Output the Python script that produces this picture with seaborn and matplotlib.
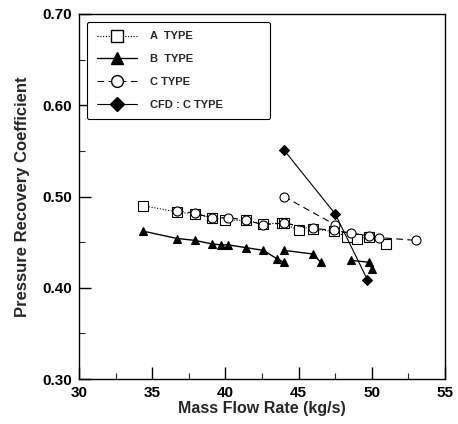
import numpy as np
import pandas as pd
import seaborn as sns
import matplotlib.pyplot as plt
from matplotlib.lines import Line2D
from matplotlib.ticker import MultipleLocator

# A TYPE (squares, dotted)
a_run1_x = [34.4, 36.7, 37.9, 39.1, 40.0, 41.4, 42.6, 43.9, 45.0]
a_run1_y = [0.490, 0.483, 0.481, 0.477, 0.474, 0.474, 0.470, 0.471, 0.463]
a_run2_x = [44.0, 46.0, 47.4, 48.3, 49.0, 49.8, 51.0]
a_run2_y = [0.471, 0.464, 0.462, 0.456, 0.454, 0.456, 0.448]

# B TYPE (filled triangles, solid)
b_run1_x = [34.4, 36.7, 37.9, 39.1, 39.7, 40.2, 41.4, 42.6, 43.5, 44.0]
b_run1_y = [0.462, 0.454, 0.452, 0.448, 0.447, 0.447, 0.444, 0.441, 0.432, 0.428]
b_run2_x = [44.0, 46.0, 46.5]
b_run2_y = [0.441, 0.437, 0.428]
b_run3_x = [48.6, 49.8, 50.0]
b_run3_y = [0.430, 0.428, 0.421]

# C TYPE (open circles, dashed)
c_run1_x = [44.0, 47.5]
c_run1_y = [0.500, 0.469]
c_run2_x = [36.7, 37.9, 39.1, 40.2, 41.4, 42.6, 44.0, 46.0, 47.4, 48.6, 49.8, 50.5, 53.0]
c_run2_y = [0.484, 0.482, 0.476, 0.477, 0.474, 0.469, 0.471, 0.465, 0.463, 0.460, 0.457, 0.455, 0.452]

# CFD : C TYPE (filled diamonds, solid)
cfd_x = [44.0, 47.5, 49.7]
cfd_y = [0.551, 0.481, 0.409]

labels = ['A  TYPE', 'B  TYPE', 'C TYPE', 'CFD : C TYPE']

runs = [
    ('A  TYPE', 1, a_run1_x, a_run1_y), ('A  TYPE', 2, a_run2_x, a_run2_y),
    ('B  TYPE', 1, b_run1_x, b_run1_y), ('B  TYPE', 2, b_run2_x, b_run2_y),
    ('B  TYPE', 3, b_run3_x, b_run3_y),
    ('C TYPE', 1, c_run1_x, c_run1_y), ('C TYPE', 2, c_run2_x, c_run2_y),
    ('CFD : C TYPE', 1, cfd_x, cfd_y),
]
rows = []
for name, r, xs, ys in runs:
    for x, y in zip(xs, ys):
        rows.append([name, r, x, y])
df = pd.DataFrame(rows, columns=['type', 'run', 'flow', 'prc'])

styles = {
    'A  TYPE': dict(marker='s', ls=(0, (1, 1.5)), mfc='white', ms=6.5, lw=0.8),
    'B  TYPE': dict(marker='^', ls='-', mfc='black', ms=6, lw=1.0),
    'C TYPE': dict(marker='o', ls=(0, (6, 4)), mfc='white', ms=6.5, lw=0.8),
    'CFD : C TYPE': dict(marker='D', ls='-', mfc='black', ms=5, lw=0.8),
}

sns.set_theme(style='ticks')
plt.rcParams['font.family'] = ['Liberation Sans', 'DejaVu Sans']
plt.rcParams['font.weight'] = 'bold'

fig = plt.figure(figsize=(4.58, 4.24), dpi=100)
ax = fig.add_axes([0.1725, 0.106, 0.799, 0.861])

for name in labels:
    st = styles[name]
    sub = df[df['type'] == name]
    sns.lineplot(data=sub, x='flow', y='prc', units='run', estimator=None, sort=False,
                 color='black', marker=st['marker'], linestyle=st['ls'],
                 markerfacecolor=st['mfc'], markeredgecolor='black', markersize=st['ms'],
                 markeredgewidth=0.8, linewidth=st['lw'], ax=ax, legend=False)

ax.set_xlim(30, 55)
ax.set_ylim(0.30, 0.70)
ax.xaxis.set_major_locator(MultipleLocator(5))
ax.xaxis.set_minor_locator(MultipleLocator(2.5))
ax.yaxis.set_major_locator(MultipleLocator(0.1))
ax.yaxis.set_minor_locator(MultipleLocator(0.05))
ax.yaxis.set_major_formatter(plt.FormatStrFormatter('%.2f'))
ax.tick_params(which='major', direction='in', length=8.5, width=1, labelsize=11,
               colors='black', pad=5)
ax.tick_params(which='minor', direction='in', length=4.3, width=0.8)
for lab in ax.get_xticklabels() + ax.get_yticklabels():
    lab.set_fontweight('bold')
for sp in ax.spines.values():
    sp.set_linewidth(1.0)
    sp.set_color('black')

ax.set_xlabel('Mass Flow Rate (kg/s)', fontsize=11.5, fontweight='bold', labelpad=1)
ax.set_ylabel('Pressure Recovery Coefficient', fontsize=12, fontweight='bold', labelpad=9)

handles = []
for name in labels:
    st = styles[name]
    handles.append(Line2D([], [], color='black', marker=st['marker'], linestyle=st['ls'],
                          markerfacecolor=st['mfc'], markeredgecolor='black',
                          markersize=st['ms'] + 2, linewidth=st['lw']))
leg = ax.legend(handles, labels, loc='upper left', bbox_to_anchor=(0.022, 0.712, 0.5, 0.266),
                mode='expand', borderaxespad=0,
                handlelength=3.6, labelspacing=1.15, borderpad=0.85, handletextpad=1.2,
                prop={'size': 8, 'weight': 'bold'}, fancybox=True, framealpha=1)
leg.get_frame().set_edgecolor('black')
leg.get_frame().set_linewidth(0.8)

fig.savefig('out.png', dpi=100)
